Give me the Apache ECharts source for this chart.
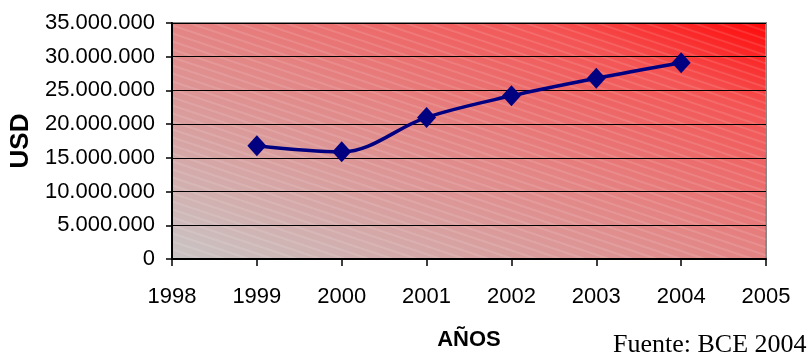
<!DOCTYPE html>
<html>
<head>
<meta charset="utf-8">
<script src="https://cdn.jsdelivr.net/npm/echarts@6/dist/echarts.min.js"></script>
<style>
  html, body { margin: 0; padding: 0; background: #fff; }
  #chart { width: 809px; height: 352px; }
</style>
</head>
<body>
<div id="chart"></div>
<script>
var years = [1999, 2000, 2001, 2002, 2003, 2004];
var usd = [16800000, 15900000, 21000000, 24200000, 26800000, 29100000];
var xRange = [1998, 2005];
var yRange = [0, 35000000];

// hatch pattern for the plot background
function makeHatch() {
    var c = document.createElement('canvas');
    c.width = 24;
    c.height = 8;
    var ctx = c.getContext('2d');
    ctx.strokeStyle = 'rgba(255,255,255,0.12)';
    ctx.lineWidth = 2;
    for (var k = -1; k <= 1; k++) {
        ctx.beginPath();
        ctx.moveTo(0, k * 8);
        ctx.lineTo(24, k * 8 + 8);
        ctx.stroke();
    }
    return c;
}

function dots(v) {
    return String(v).replace(/\B(?=(\d{3})+(?!\d))/g, '.');
}

var chart = echarts.init(document.getElementById('chart'));

var option = {
    animation: false,
    textStyle: { fontFamily: 'Liberation Sans, Arial, sans-serif' },
    grid: {
        left: 172,
        right: 43,
        top: 23,
        bottom: 93,
        outerBoundsMode: 'none',
        containLabel: false,
        show: true,
        borderColor: '#888',
        borderWidth: 2,
        backgroundColor: new echarts.graphic.LinearGradient(0, 1, 0.2727, -0.727, [
            { offset: 0, color: '#c9c5c5' },
            { offset: 0.5, color: '#e48484' },
            { offset: 0.8, color: '#f45454' },
            { offset: 1, color: '#ff0606' }
        ])
    },
    graphic: [{
        type: 'rect',
        silent: true,
        z: 0,
        shape: { x: 172, y: 23, width: 594, height: 236 },
        style: { fill: { image: makeHatch(), repeat: 'repeat' } }
    }, {
        type: 'text',
        left: 613,
        top: 332,
        style: {
            text: 'Fuente: BCE 2004',
            font: '26px "Liberation Serif", "Times New Roman", serif',
            fill: '#000'
        }
    }],
    xAxis: {
        type: 'value',
        min: xRange[0],
        max: xRange[1],
        interval: 1,
        name: 'AÑOS',
        nameLocation: 'middle',
        nameGap: 70,
        nameTextStyle: { fontSize: 22, fontWeight: 'bold', color: '#000' },
        axisLine: { lineStyle: { color: '#000', width: 2 } },
        axisTick: { length: 7, lineStyle: { color: '#000', width: 1.5 } },
        axisLabel: {
            margin: 27,
            fontSize: 22,
            color: '#000',
            formatter: function (v) { return String(v); }
        },
        splitLine: { show: false }
    },
    yAxis: {
        type: 'value',
        min: yRange[0],
        max: yRange[1],
        interval: 5000000,
        name: 'USD',
        nameLocation: 'middle',
        nameGap: 137,
        nameRotate: 90,
        nameTextStyle: { fontSize: 26, fontWeight: 'bold', color: '#000' },
        axisLine: { show: true, lineStyle: { color: '#000', width: 2 } },
        axisTick: { show: true, length: 6, lineStyle: { color: '#000', width: 1.5 } },
        axisLabel: {
            margin: 17,
            fontSize: 22,
            color: '#000',
            formatter: dots
        },
        splitLine: { lineStyle: { color: '#000', width: 1 } }
    },
    series: [{
        type: 'line',
        data: years.map(function (y, i) { return [y, usd[i]]; }),
        smooth: 0.35,
        symbol: 'diamond',
        symbolSize: [19, 21],
        lineStyle: { color: '#000080', width: 3.5 },
        itemStyle: { color: '#000080' },
        z: 5
    }]
};

chart.setOption(option);
</script>
</body>
</html>
